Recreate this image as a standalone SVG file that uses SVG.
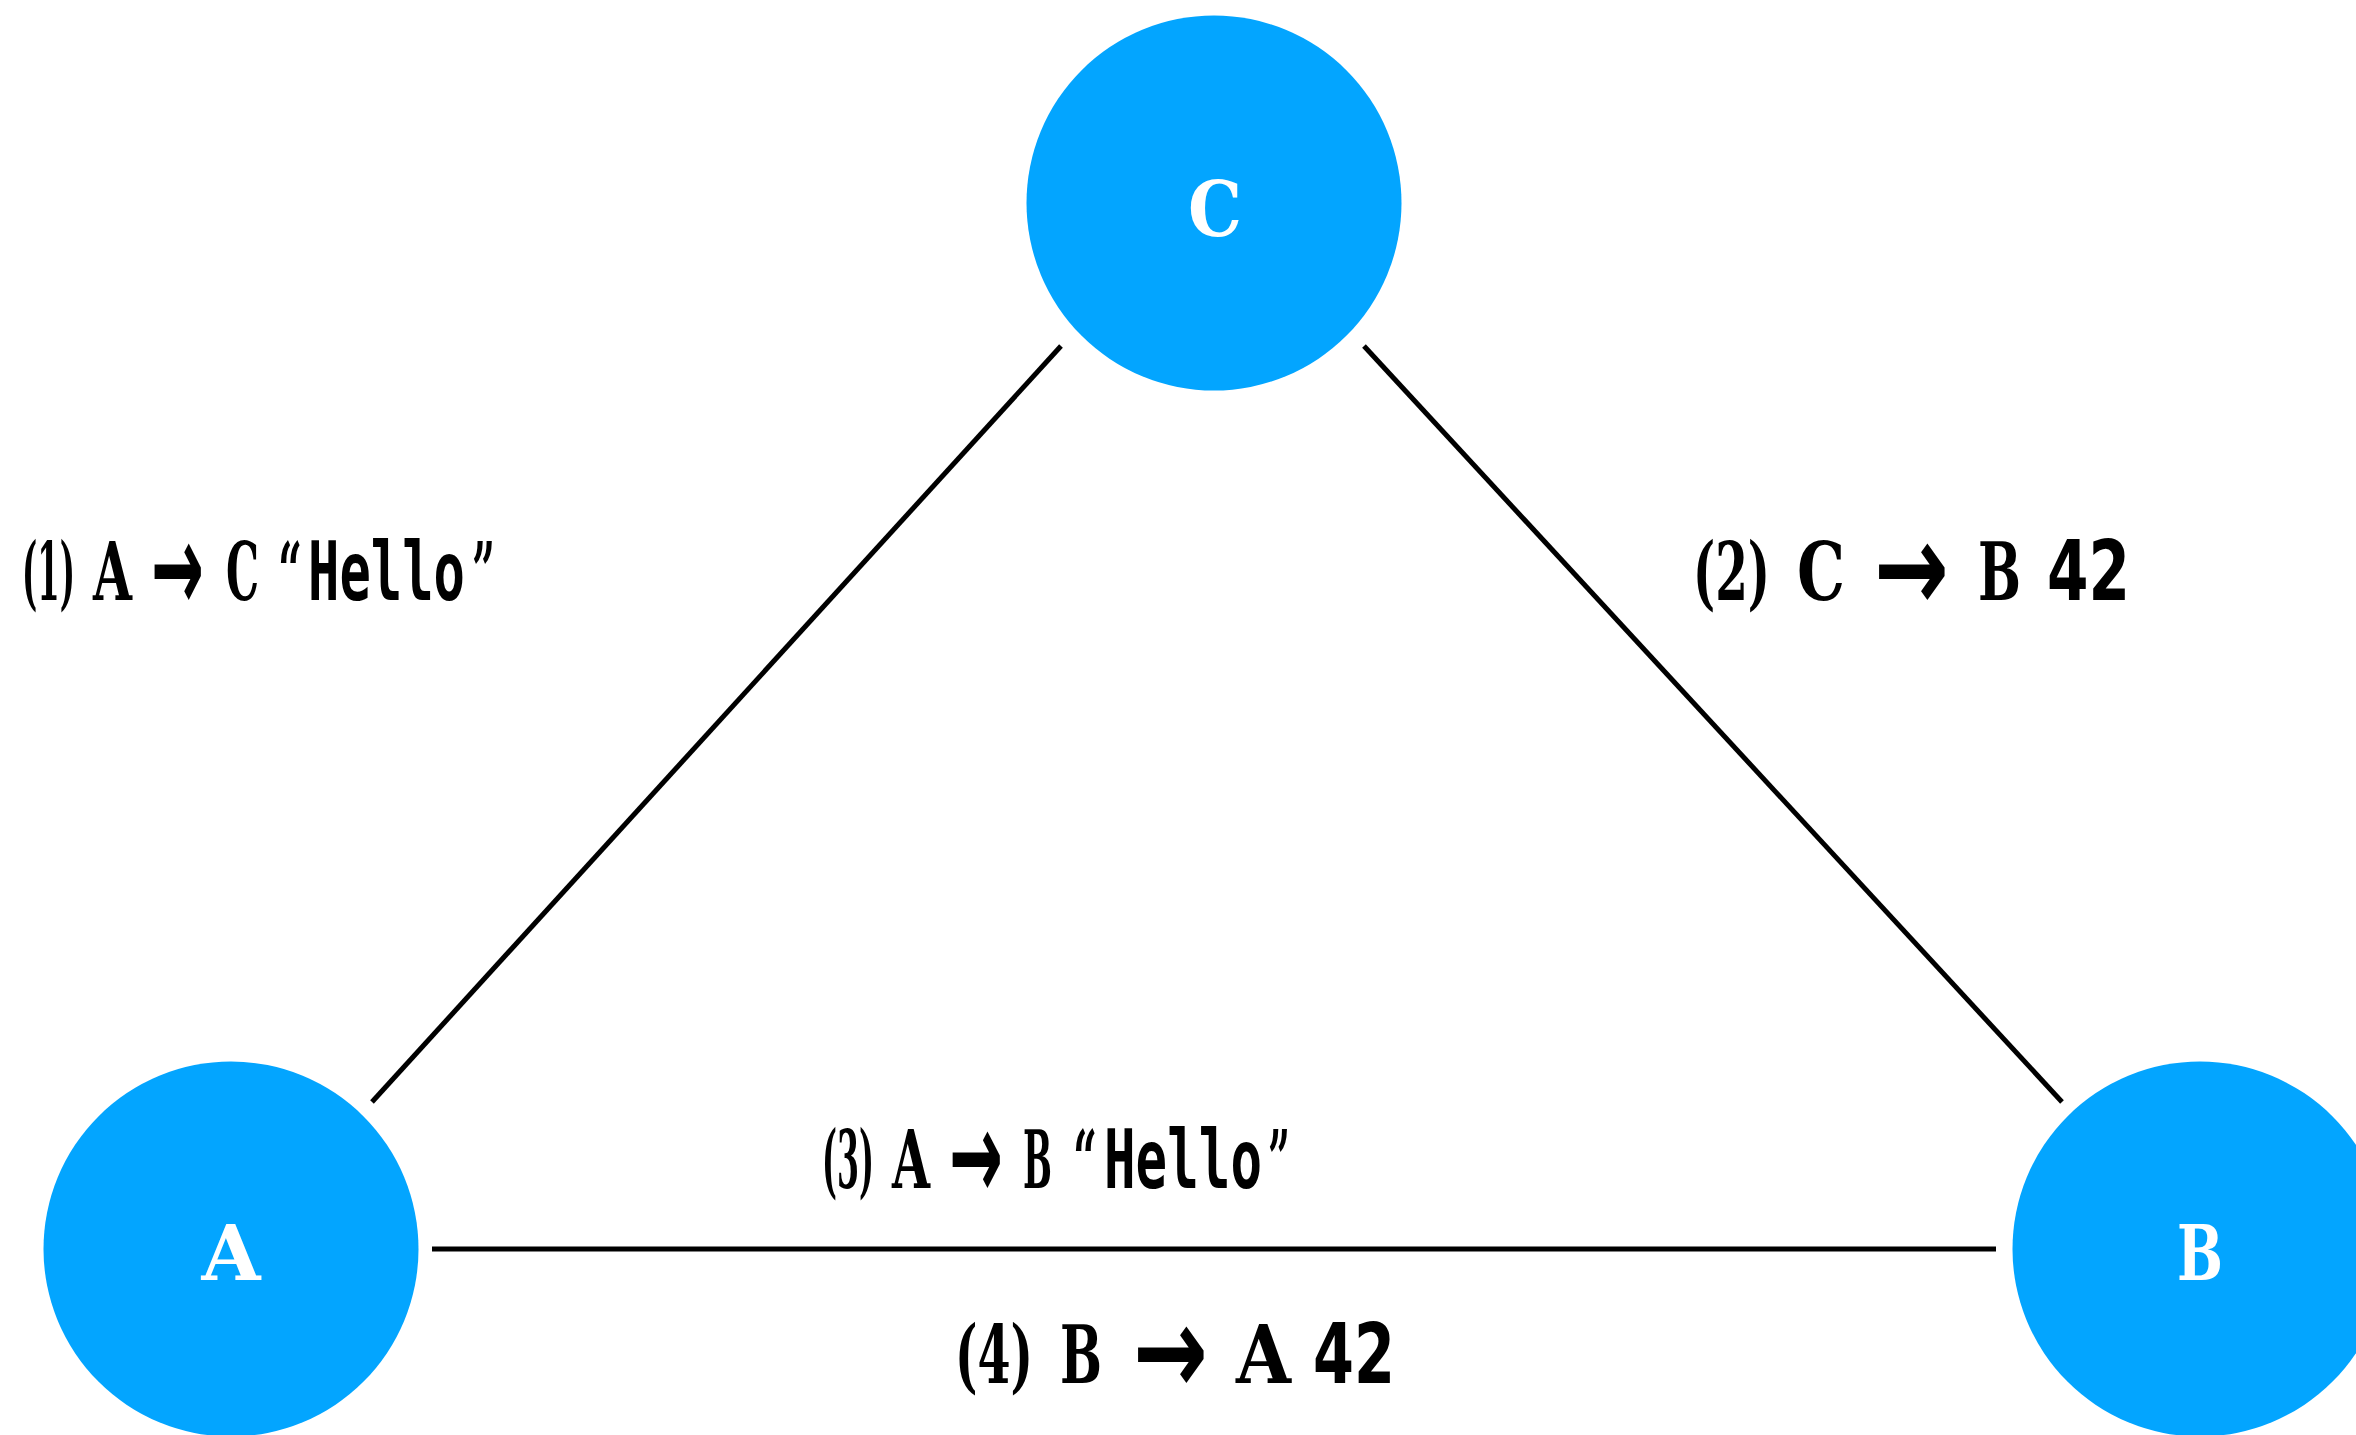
<svg xmlns="http://www.w3.org/2000/svg" width="2356" height="1435" viewBox="0 0 2356 1435">
<style>
.node{fill:#03a5ff}
.nl{font-family:"DejaVu Serif","Liberation Serif",serif;font-weight:bold;font-size:76px;fill:#fff;text-anchor:middle}
.edge{stroke:#000;stroke-width:5;fill:none}
.s{font-family:"DejaVu Serif","Liberation Serif",serif;font-weight:bold;font-size:80px;fill:#000}
.m{font-family:"DejaVu Sans Mono","Liberation Mono",monospace;font-weight:bold;font-size:82px;fill:#000}
.n{font-family:"DejaVu Sans","Liberation Sans",sans-serif;font-weight:bold;font-size:84px;fill:#000}
.ar{font-family:"Noto Sans","DejaVu Sans",sans-serif;font-weight:bold;font-size:125px;fill:#000}
</style>
<rect width="2356" height="1435" fill="#fff"/>
<g id="connectors">
<line class="edge" x1="1061" y1="346" x2="372" y2="1102"/>
<line class="edge" x1="1364" y1="346" x2="2062" y2="1102"/>
<line class="edge" x1="432" y1="1249" x2="1996" y2="1249"/>
</g>
<g id="node-C"><circle class="node" cx="1214" cy="203" r="187.5"/><text class="nl" x="1215" y="236" textLength="54" lengthAdjust="spacingAndGlyphs">C</text></g>
<g id="node-A"><circle class="node" cx="231" cy="1249" r="187.5"/><text class="nl" x="231" y="1280" textLength="59" lengthAdjust="spacingAndGlyphs">A</text></g>
<g id="node-B"><circle class="node" cx="2200" cy="1249" r="187.5"/><text class="nl" x="2200" y="1280" textLength="46" lengthAdjust="spacingAndGlyphs">B</text></g>
<g id="label-1">
<text class="s" x="22" y="600" textLength="53" lengthAdjust="spacingAndGlyphs">(1)</text>
<text class="s" x="93" y="600" textLength="39" lengthAdjust="spacingAndGlyphs">A</text>
<text class="ar" x="151" y="611" textLength="53" lengthAdjust="spacingAndGlyphs">→</text>
<text class="s" x="226" y="600" textLength="33" lengthAdjust="spacingAndGlyphs">C</text>
<text class="s" x="278" y="600" textLength="24" lengthAdjust="spacingAndGlyphs">“</text>
<text class="m" x="308" y="600" textLength="157" lengthAdjust="spacingAndGlyphs">Hello</text>
<text class="s" x="472" y="600" textLength="23" lengthAdjust="spacingAndGlyphs">”</text>
</g>
<g id="label-2">
<text class="s" x="1693" y="600" textLength="77" lengthAdjust="spacingAndGlyphs">(2)</text>
<text class="s" x="1797" y="600" textLength="48" lengthAdjust="spacingAndGlyphs">C</text>
<text class="ar" x="1874" y="611" textLength="75" lengthAdjust="spacingAndGlyphs">→</text>
<text class="s" x="1978" y="600" textLength="43" lengthAdjust="spacingAndGlyphs">B</text>
<text class="n" x="2047" y="600" textLength="83" lengthAdjust="spacingAndGlyphs">42</text>
</g>
<g id="label-3">
<text class="s" x="822" y="1188" textLength="52" lengthAdjust="spacingAndGlyphs">(3)</text>
<text class="s" x="892" y="1188" textLength="38" lengthAdjust="spacingAndGlyphs">A</text>
<text class="ar" x="949" y="1199" textLength="54" lengthAdjust="spacingAndGlyphs">→</text>
<text class="s" x="1023" y="1188" textLength="29" lengthAdjust="spacingAndGlyphs">B</text>
<text class="s" x="1073" y="1188" textLength="24" lengthAdjust="spacingAndGlyphs">“</text>
<text class="m" x="1104" y="1188" textLength="158" lengthAdjust="spacingAndGlyphs">Hello</text>
<text class="s" x="1268" y="1188" textLength="22" lengthAdjust="spacingAndGlyphs">”</text>
</g>
<g id="label-4">
<text class="s" x="955" y="1383" textLength="78" lengthAdjust="spacingAndGlyphs">(4)</text>
<text class="s" x="1060" y="1383" textLength="42" lengthAdjust="spacingAndGlyphs">B</text>
<text class="ar" x="1133" y="1394" textLength="75" lengthAdjust="spacingAndGlyphs">→</text>
<text class="s" x="1236" y="1383" textLength="55" lengthAdjust="spacingAndGlyphs">A</text>
<text class="n" x="1313" y="1383" textLength="82" lengthAdjust="spacingAndGlyphs">42</text>
</g>
</svg>
